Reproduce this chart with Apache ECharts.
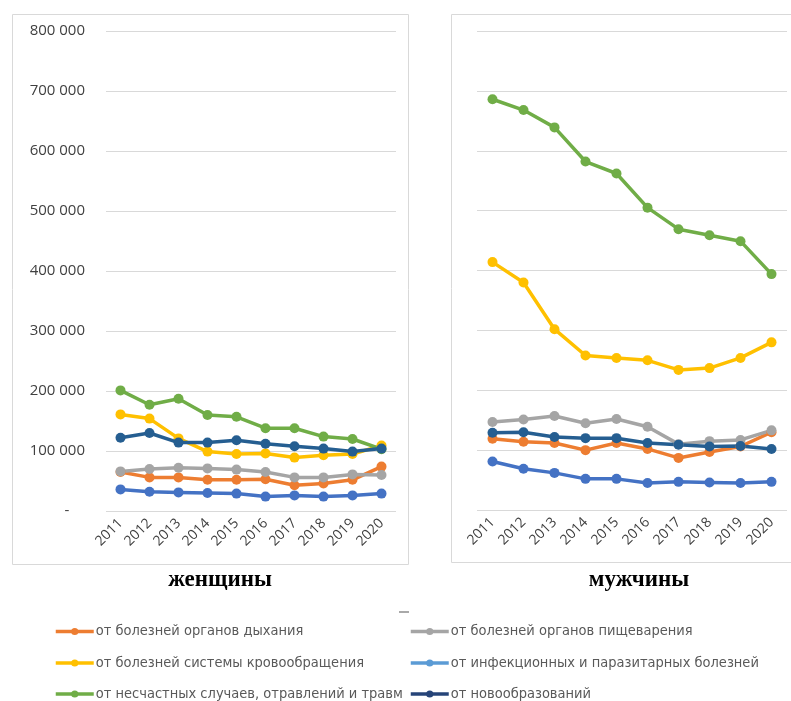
<!DOCTYPE html>
<html>
<head>
<meta charset="utf-8">
<script src="https://cdn.jsdelivr.net/npm/echarts@6/dist/echarts.min.js"></script>
<style>
  html, body { margin: 0; padding: 0; background: #fff; }
  #chart { width: 791px; height: 701px; }
</style>
</head>
<body>
<div id="chart"></div>
<script>
const years = ['2011', '2012', '2013', '2014', '2015', '2016', '2017', '2018', '2019', '2020'];
const yTicks = [0, 100000, 200000, 300000, 400000, 500000, 600000, 700000, 800000];

const names = [
  'от болезней органов дыхания',
  'от болезней органов пищеварения',
  'от болезней системы кровообращения',
  'от инфекционных и паразитарных болезней',
  'от несчастных случаев, отравлений и травм',
  'от новообразований'
];

// женщины
const womenRespiratory = [65000, 56000, 56000, 52000, 52000, 53000, 43000, 46000, 52000, 74000];
const womenDigestive = [66000, 70000, 72000, 71000, 69000, 65000, 56000, 56000, 61000, 60000];
const womenCirculatory = [161000, 154000, 121000, 99000, 95000, 96000, 89000, 93000, 95000, 109000];
const womenInfectious = [36000, 32000, 31000, 30000, 29000, 24000, 26000, 24000, 26000, 29000];
const womenAccidents = [201000, 177000, 187000, 160000, 157000, 138000, 138000, 124000, 120000, 103000];
const womenNeoplasms = [122000, 130000, 114000, 114000, 118000, 112000, 108000, 104000, 99000, 104000];

// мужчины
const menRespiratory = [119000, 114000, 112000, 100000, 112000, 102000, 87000, 97000, 106000, 130000];
const menDigestive = [147000, 151000, 157000, 145000, 152000, 139000, 110000, 115000, 117000, 133000];
const menCirculatory = [414000, 380000, 302000, 258000, 254000, 250000, 234000, 237000, 254000, 280000];
const menInfectious = [81000, 69000, 62000, 52000, 52000, 45000, 47000, 46000, 45000, 47000];
const menAccidents = [686000, 668000, 639000, 582000, 562000, 505000, 469000, 459000, 449000, 394000];
const menNeoplasms = [129000, 130000, 122000, 120000, 120000, 112000, 109000, 106000, 107000, 102000];

const lineColors = ['#ED7D31', '#A5A5A5', '#FFC000', '#4472C4', '#70AD47', '#255E91'];
const legendColors = ['#ED7D31', '#A5A5A5', '#FFC000', '#5B9BD5', '#70AD47', '#264478'];

const womenData = [womenRespiratory, womenDigestive, womenCirculatory, womenInfectious, womenAccidents, womenNeoplasms];
const menData = [menRespiratory, menDigestive, menCirculatory, menInfectious, menAccidents, menNeoplasms];

function fmt(v) {
  if (v === 0) return '-    ';
  return String(v).replace(/\B(?=(\d{3})+(?!\d))/g, ' ');
}

const xAxisBase = {
  type: 'category',
  data: years,
  boundaryGap: true,
  axisLine: { show: false },
  axisTick: { show: false },
  axisLabel: {
    rotate: 45,
    margin: 10,
    interval: 0,
    color: '#404040',
    fontSize: 14,
    fontFamily: 'Open Sans'
  }
};

const yAxisBase = {
  type: 'value',
  min: yTicks[0],
  max: yTicks[yTicks.length - 1],
  interval: yTicks[1] - yTicks[0],
  axisLine: { show: false },
  axisTick: { show: false },
  splitLine: { lineStyle: { color: '#D9D9D9', width: 1 } }
};

const lineSeries = {
  type: 'line',
  symbol: 'circle',
  symbolSize: 10,
  lineStyle: { width: 3.5 },
  emphasis: { disabled: true }
};

const series = [];
names.forEach((n, i) => {
  series.push({
    ...lineSeries,
    name: n,
    xAxisIndex: 0,
    yAxisIndex: 0,
    color: lineColors[i],
    z: 2 + (i === 5 ? 1 : 0),
    data: womenData[i]
  });
  series.push({
    ...lineSeries,
    name: n,
    xAxisIndex: 1,
    yAxisIndex: 1,
    color: lineColors[i],
    data: menData[i]
  });
});

// legend: two columns, three rows
const legendCols = [54, 409];
const legendRows = [630, 661.5, 692.5];
const legend = names.map((n, i) => ({
  left: legendCols[i % 2],
  top: legendRows[Math.floor(i / 2)] - 6,
  padding: 0,
  itemWidth: 38,
  itemHeight: 9,
  itemGap: 2,
  textStyle: {
    color: '#595959',
    fontSize: 14.5,
    padding: [0, 0, 0, -3],
    fontFamily: 'DejaVu Sans Condensed'
  },
  data: [{
    name: n,
    itemStyle: { color: legendColors[i] },
    lineStyle: { color: legendColors[i], width: 3.5 }
  }]
}));

const titleStyle = { fontFamily: 'Liberation Serif', fontWeight: 'bold', fontSize: 23, color: '#000' };

const chart = echarts.init(document.getElementById('chart'));
chart.setOption({
  animation: false,
  title: [
    { text: 'женщины', left: 215, top: 564, textAlign: 'center', textStyle: titleStyle },
    { text: 'мужчины', left: 634, top: 564, textAlign: 'center', textStyle: titleStyle }
  ],
  legend: legend,
  grid: [
    { left: 106, right: 395, top: 31, bottom: 190 },
    { left: 477, right: 4, top: 31, bottom: 191 }
  ],
  xAxis: [
    { ...xAxisBase, gridIndex: 0 },
    { ...xAxisBase, gridIndex: 1 }
  ],
  yAxis: [
    {
      ...yAxisBase,
      gridIndex: 0,
      axisLabel: {
        margin: 21,
        color: '#404040',
        fontSize: 15,
        fontFamily: 'Open Sans',
        formatter: fmt
      }
    },
    {
      ...yAxisBase,
      gridIndex: 1,
      axisLabel: { show: false }
    }
  ],
  graphic: [
    {
      type: 'rect',
      shape: { x: 12.5, y: 14.5, width: 396, height: 550 },
      style: { fill: 'none', stroke: '#D9D9D9', lineWidth: 1 },
      z: -1
    },
    {
      type: 'rect',
      shape: { x: 451.5, y: 14.5, width: 360, height: 548 },
      style: { fill: 'none', stroke: '#D9D9D9', lineWidth: 1 },
      z: -1
    },
    {
      type: 'line',
      shape: { x1: 399, y1: 612, x2: 409, y2: 612 },
      style: { stroke: '#8C8C8C', lineWidth: 1.5 }
    }
  ],
  series: series
});
</script>
</body>
</html>
